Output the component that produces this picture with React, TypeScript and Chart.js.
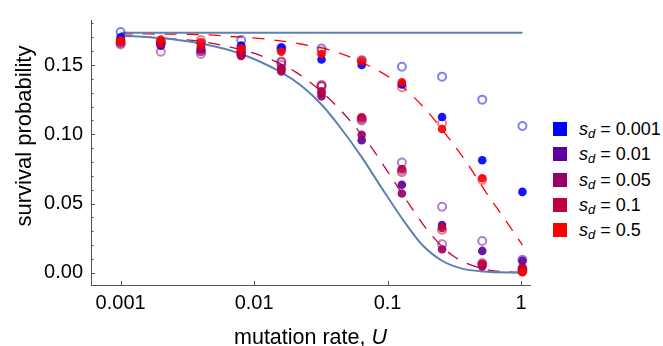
import React, { useEffect, useRef } from 'react';
import { Chart, registerables } from 'chart.js';
Chart.register(...registerables);

// ---- data ----
const U = [0.001, 0.002, 0.004, 0.008, 0.016, 0.032, 0.064, 0.128, 0.256, 0.512, 1.024];
const SD_LABELS = ['0.001', '0.01', '0.05', '0.1', '0.5'];

// filled markers (one per s_d)
const filled_0001 = [0.170, 0.164, 0.163, 0.164, 0.1624, 0.154, 0.150, 0.136, 0.1125, 0.0813, 0.0584];
const filled_001 = [0.168, 0.165, 0.161, 0.159, 0.1477, 0.1298, 0.0957, 0.0636, 0.0345, 0.0158, 0.0087];
const filled_005 = [0.167, 0.166, 0.162, 0.1565, 0.1454, 0.1274, 0.0997, 0.0572, 0.017, 0.0045, 0.002];
const filled_01 = [0.167, 0.165, 0.163, 0.157, 0.147, 0.131, 0.112, 0.0749, 0.0324, 0.0064, 0.004];
const filled_05 = [0.1676, 0.1683, 0.166, 0.162, 0.1596, 0.158, 0.1525, 0.1376, 0.1038, 0.0683, 0.0004];

// open markers (one per s_d)
const open_0001 = [0.1738, 0.167, 0.166, 0.168, 0.1624, 0.1619, 0.1534, 0.1487, 0.1416, 0.125, 0.106];
const open_001 = [0.166, 0.165, 0.160, 0.161, 0.152, 0.1345, 0.110, 0.0796, 0.0477, 0.0229, 0.0095];
const open_005 = [0.1648, 0.1596, 0.158, 0.158, 0.1525, 0.1355, 0.111, 0.0726, 0.0206, 0.006, 0.003];
const open_01 = [0.166, 0.166, 0.160, 0.159, 0.150, 0.135, 0.112, 0.074, 0.031, 0.007, 0.002];
const open_05 = [0.168, 0.167, 0.168, 0.163, 0.161, 0.160, 0.153, 0.134, 0.108, 0.067, 0.001];

// theory: constant line
const flatU = [0.001, 1.024];
const flatY = [0.1733, 0.1733];

// theory: solid decreasing curve
const solidU = [0.001, 0.002, 0.004, 0.008, 0.016, 0.0226, 0.032, 0.045, 0.064, 0.09, 0.128, 0.18, 0.256, 0.362, 0.512, 1.024];
const solidY = [0.1714, 0.1695, 0.1655, 0.158, 0.1447, 0.135, 0.1215, 0.104, 0.0835, 0.0615, 0.0394, 0.0206, 0.0087, 0.003, 0.001, 0.0001];

// theory: upper dashed (red)
const dashHiU = [0.001, 0.004, 0.00667, 0.0129, 0.0229, 0.0396, 0.0705, 0.119, 0.187, 0.256, 0.389, 0.542, 0.752, 1.024];
const dashHiY = [0.1725, 0.172, 0.1706, 0.1685, 0.165, 0.160, 0.150, 0.137, 0.1194, 0.1035, 0.080, 0.0586, 0.039, 0.020];

// theory: lower dashed (crimson)
const dashLoU = [0.001, 0.002, 0.004, 0.0066, 0.0118, 0.0207, 0.0347, 0.0504, 0.0735, 0.1025, 0.141, 0.2, 0.307, 0.54, 1.024];
const dashLoY = [0.171, 0.1695, 0.167, 0.163, 0.156, 0.1447, 0.1277, 0.1116, 0.0922, 0.0716, 0.0513, 0.0305, 0.0125, 0.0026, 0.0002];

const X_TICKS = [0.001, 0.01, 0.1, 1];
const X_TICK_LABELS = ['0.001', '0.01', '0.1', '1'];
const Y_TICKS = [0, 0.05, 0.1, 0.15];
const Y_MINOR = [0, 0.01, 0.02, 0.03, 0.04, 0.05, 0.06, 0.07, 0.08, 0.09, 0.1, 0.11, 0.12, 0.13, 0.14, 0.15, 0.16, 0.17, 0.18];

// ---- styles ----
const RGB = [[0, 0, 255], [94, 0, 161], [153, 0, 102], [192, 0, 64], [255, 0, 0]];
const FONT = "'Liberation Sans', Arial, sans-serif";
const LINE_BLUE = '#5e81b5';

const pts = (xs: number[], ys: number[]) => xs.map((x, i) => ({ x, y: ys[i] }));

const tickPlugin = {
  id: 'extras',
  afterDraw(chart: any) {
    const ctx = chart.ctx;
    const xs = chart.scales.x;
    const ys = chart.scales.y;
    const area = chart.chartArea;
    ctx.save();
    ctx.strokeStyle = '#555';
    ctx.lineWidth = 1;
    Y_MINOR.forEach((v) => {
      const y = Math.round(ys.getPixelForValue(v)) + 0.5;
      const major = Y_TICKS.some((t) => Math.abs(t - v) < 1e-9);
      const len = major ? 4 : 2.5;
      ctx.beginPath();
      ctx.moveTo(area.left, y);
      ctx.lineTo(area.left + len, y);
      ctx.stroke();
    });
    X_TICKS.forEach((v) => {
      const x = Math.round(xs.getPixelForValue(v)) + 0.5;
      ctx.beginPath();
      ctx.moveTo(x, area.bottom);
      ctx.lineTo(x, area.bottom - 4);
      ctx.stroke();
    });
    // x title
    ctx.fillStyle = '#000';
    ctx.textBaseline = 'alphabetic';
    ctx.textAlign = 'left';
    const part1 = 'mutation rate, ';
    const part2 = 'U';
    ctx.font = `21.5px ${FONT}`;
    const w1 = ctx.measureText(part1).width;
    ctx.font = `italic 21.5px ${FONT}`;
    const w2 = ctx.measureText(part2).width;
    const cx = (area.left + area.right) / 2;
    const startX = cx - (w1 + w2) / 2;
    ctx.font = `21.5px ${FONT}`;
    ctx.fillText(part1, startX, 344);
    ctx.font = `italic 21.5px ${FONT}`;
    ctx.fillText(part2, startX + w1, 344);
    // y title
    ctx.save();
    ctx.translate(25, 136);
    ctx.rotate(-Math.PI / 2);
    ctx.font = `22px ${FONT}`;
    ctx.textAlign = 'center';
    ctx.textBaseline = 'middle';
    ctx.fillText('survival probability', 0, 0);
    ctx.restore();
    ctx.restore();
  },
};

export default function App() {
  const ref = useRef<HTMLCanvasElement>(null);
  useEffect(() => {
    if (!ref.current) return;
    const filled = [filled_0001, filled_001, filled_005, filled_01, filled_05];
    const open = [open_0001, open_001, open_005, open_01, open_05];
    const datasets: any[] = [];
    filled.forEach((ys, i) => {
      const [r, g, b] = RGB[i];
      datasets.push({
        label: 'filled ' + SD_LABELS[i],
        data: pts(U, ys),
        pointRadius: 4.3,
        pointBackgroundColor: `rgba(${r},${g},${b},0.92)`,
        pointBorderWidth: 0,
        showLine: false,
        order: 5 - i,
      });
    });
    open.forEach((ys, i) => {
      const [r, g, b] = RGB[i];
      datasets.push({
        label: 'open ' + SD_LABELS[i],
        data: pts(U, ys),
        pointRadius: 4,
        pointBackgroundColor: 'rgba(0,0,0,0)',
        pointBorderColor: `rgba(${r},${g},${b},0.5)`,
        pointBorderWidth: 2,
        showLine: false,
        order: 10 - i,
      });
    });
    datasets.push({
      label: 'flat',
      data: pts(flatU, flatY),
      showLine: true,
      pointRadius: 0,
      borderColor: LINE_BLUE,
      borderWidth: 2,
      order: 20,
    });
    datasets.push({
      label: 'solid',
      data: pts(solidU, solidY),
      showLine: true,
      pointRadius: 0,
      borderColor: LINE_BLUE,
      borderWidth: 2,
      cubicInterpolationMode: 'monotone',
      order: 21,
    });
    datasets.push({
      label: 'dashHi',
      data: pts(dashHiU, dashHiY),
      showLine: true,
      pointRadius: 0,
      borderColor: 'rgb(255,0,0)',
      borderWidth: 1.3,
      borderDash: [12, 10],
      cubicInterpolationMode: 'monotone',
      order: 22,
    });
    datasets.push({
      label: 'dashLo',
      data: pts(dashLoU, dashLoY),
      showLine: true,
      pointRadius: 0,
      borderColor: 'rgb(200,0,60)',
      borderWidth: 1.3,
      borderDash: [12, 10],
      cubicInterpolationMode: 'monotone',
      order: 23,
    });

    const chart = new Chart(ref.current, {
      type: 'scatter',
      data: { datasets },
      options: {
        responsive: false,
        maintainAspectRatio: false,
        animation: false,
        events: [],
        layout: { padding: { top: 15, right: 10, left: 0, bottom: 0 } },
        plugins: { legend: { display: false }, tooltip: { enabled: false } },
        scales: {
          x: {
            type: 'logarithmic',
            min: 0.000606,
            max: 1.167,
            afterBuildTicks: (s: any) => {
              s.ticks = X_TICKS.map((v) => ({ value: v }));
            },
            afterFit: (s: any) => {
              s.height = 61;
            },
            grid: { display: false, drawTicks: false },
            border: { color: '#555', width: 1 },
            ticks: {
              padding: 6,
              color: '#000',
              maxRotation: 0,
              autoSkip: false,
              font: { family: FONT, size: 20 },
              callback: (v: any) => {
                const idx = X_TICKS.findIndex((t) => Math.abs(t - v) / t < 1e-6);
                return idx >= 0 ? X_TICK_LABELS[idx] : '';
              },
            },
          },
          y: {
            min: -0.0088,
            max: 0.1825,
            afterBuildTicks: (s: any) => {
              s.ticks = Y_TICKS.map((v) => ({ value: v }));
            },
            afterFit: (s: any) => {
              s.width = 91;
            },
            grid: { display: false, drawTicks: false },
            border: { color: '#555', width: 1 },
            ticks: {
              padding: 8,
              color: '#000',
              font: { family: FONT, size: 20 },
              callback: (v: any) => Number(v).toFixed(2),
            },
          },
        },
      },
      plugins: [tickPlugin],
    });
    return () => chart.destroy();
  }, []);

  return (
    <div style={{ position: 'fixed', left: 0, top: 0, width: 663, height: 346, background: '#fff', fontFamily: FONT }}>
      <canvas ref={ref} width={540} height={346} style={{ position: 'absolute', left: 0, top: 0, width: 540, height: 346 }} />
      {SD_LABELS.map((lab, i) => {
        const [r, g, b] = RGB[i];
        const cy = 129 + i * 25.3;
        return (
          <div key={lab} style={{ position: 'absolute', left: 553, top: cy - 11, height: 22, display: 'flex', alignItems: 'center', whiteSpace: 'nowrap' }}>
            <div style={{ width: 14, height: 14, background: `rgb(${r},${g},${b})`, marginRight: 12 }} />
            <span style={{ fontSize: 18, color: '#000', lineHeight: '22px' }}>
              <i>s</i>
              <sub style={{ fontSize: 13, fontStyle: 'italic', verticalAlign: '-3px', lineHeight: 0 }}>d</sub>
              {' = ' + lab}
            </span>
          </div>
        );
      })}
    </div>
  );
}
